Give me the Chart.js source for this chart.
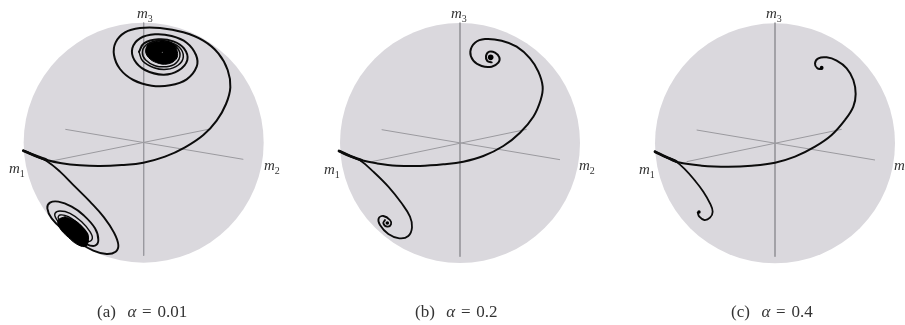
<!DOCTYPE html>
<html lang="en">
<head>
    <meta charset="UTF-8">
    <title>Trajectories on the unit sphere</title>
    <script src="https://cdn.jsdelivr.net/npm/chart.js"></script>
    <style>
        body {
            margin: 0;
            background-color: #fff;
            overflow: hidden;
            font-family: "Liberation Serif", serif;
            color: #333;
        }
        .panel {
            position: absolute;
            top: 0;
            width: 300px;
            height: 325px;
        }
        .panel canvas {
            position: absolute;
            left: 0;
            top: 0;
            filter: blur(0.35px);
        }
        .lab {
            position: absolute;
            font-size: 15px;
            font-style: italic;
            line-height: 14px;
        }
        .lab sub {
            font-size: 10px;
            font-style: normal;
            line-height: 0;
        }
        .cap {
            position: absolute;
            top: 304px;
            font-size: 17px;
            line-height: 16px;
            word-spacing: 1.5px;
            white-space: pre;
        }
    </style>
</head>
<body>
    <div class="panel" style="left:0"><canvas id="chartA" width="300" height="325"></canvas>
        <span class="lab" style="left:137px;top:6px"><i>m</i><sub>3</sub></span>
        <span class="lab" style="left:9px;top:161px"><i>m</i><sub>1</sub></span>
        <span class="lab" style="left:264px;top:158px"><i>m</i><sub>2</sub></span>
        <span class="cap" style="left:97px">(a)  <i>α</i> = 0.01</span>
    </div>
    <div class="panel" style="left:300px"><canvas id="chartB" width="300" height="325"></canvas>
        <span class="lab" style="left:151px;top:6px"><i>m</i><sub>3</sub></span>
        <span class="lab" style="left:24px;top:162px"><i>m</i><sub>1</sub></span>
        <span class="lab" style="left:279px;top:158px"><i>m</i><sub>2</sub></span>
        <span class="cap" style="left:115px">(b)  <i>α</i> = 0.2</span>
    </div>
    <div class="panel" style="left:605px"><canvas id="chartC" width="300" height="325"></canvas>
        <span class="lab" style="left:161px;top:6px"><i>m</i><sub>3</sub></span>
        <span class="lab" style="left:34px;top:162px"><i>m</i><sub>1</sub></span>
        <span class="lab" style="left:289px;top:158px"><i>m</i><sub>2</sub></span>
        <span class="cap" style="left:126px">(c)  <i>α</i> = 0.4</span>
    </div>

    <script>
        // all values, x 0-900 and y 0-975 across one panel
        const aCentre = [{ x: 431, y: 428 }];
        const aAxis3 = [{ x: 431, y: 68 }, { x: 431, y: 767 }];
        const aAxis2 = [{ x: 196, y: 388 }, { x: 730, y: 478 }];
        const aAxis1 = [{ x: 155, y: 483 }, { x: 630, y: 387 }];
        const aStart = [[70, 452], [105, 467], [140, 480]];
        const aUpper = [[70, 452], [105, 467], [140, 480], [185, 490], [240, 496], [300, 498], [365, 495], [430, 488], [495, 470], [555, 442], [610, 405], [650, 362], [678, 312], [691, 262], [683, 210], [655, 160], [610, 122], [550, 97], [480, 84], [420, 84], [375, 97], [347, 127], [342, 165], [360, 207], [400, 240], [455, 257], [510, 256], [560, 238], [590, 200], [588, 165], [560, 128], [515, 108], [465, 103], [420, 115], [397, 145], [403, 180], [435, 210], [490, 224], [535, 212], [562, 180], [552, 145], [520, 124], [475, 118], [432, 130], [417, 155]];
        const aUpperInner = [[417, 155], [428, 183], [462, 203], [500, 208], [535, 195], [550, 170], [538, 142], [505, 125], [468, 122], [437, 136], [427, 158], [437, 180], [465, 197], [500, 200], [527, 190], [540, 165], [528, 140], [500, 128], [470, 130]];
        const aUpperBlob = [[487, 122], [517, 130], [532, 155], [528, 178], [502, 192], [470, 188], [445, 172], [437, 150], [450, 130]];
        const aUpperDot = [{ x: 487, y: 157 }];
        const aLower = [[70, 452], [105, 467], [140, 483], [180, 515], [225, 560], [270, 605], [312, 652], [342, 698], [355, 735], [347, 755], [320, 762], [280, 752], [235, 725], [190, 690], [155, 655], [142, 625], [150, 608], [175, 605], [215, 620], [250, 645], [285, 685], [295, 720], [285, 737], [260, 733], [225, 712]];
        const aLowerInner = [[225, 712], [190, 685], [168, 655], [165, 640], [180, 633], [210, 640], [245, 665], [270, 695], [277, 715], [265, 725], [235, 712], [195, 680], [175, 655], [180, 645], [205, 650], [240, 675], [262, 700], [265, 715]];
        const aLowerBlob = [[195, 650], [225, 662], [250, 685], [265, 712], [258, 738], [235, 735], [205, 712], [178, 682], [175, 660]];
        const bCentre = [{ x: 480, y: 429 }];
        const bAxis3 = [{ x: 480, y: 68 }, { x: 480, y: 770 }];
        const bAxis2 = [{ x: 245, y: 389 }, { x: 780, y: 479 }];
        const bAxis1 = [{ x: 215, y: 485 }, { x: 680, y: 388 }];
        const bStart = [[117, 453], [150, 468], [185, 481]];
        const bUpper = [[117, 453], [150, 468], [185, 481], [230, 490], [290, 497], [360, 498], [430, 493], [490, 485], [550, 468], [610, 438], [660, 398], [700, 350], [722, 300], [728, 260], [715, 215], [690, 175], [650, 140], [605, 122], [555, 117], [525, 128], [511, 155], [520, 182], [545, 198], [575, 200], [595, 188], [598, 172], [585, 158], [568, 155], [558, 168], [562, 183], [575, 187]];
        const bUpperEnd = [{ x: 572, y: 172 }];
        const bLower = [[117, 453], [150, 468], [180, 481], [220, 515], [265, 560], [305, 610], [330, 650], [336, 682], [325, 708], [298, 715], [265, 702], [240, 675], [236, 655], [250, 648], [270, 660], [273, 673], [262, 680], [250, 670], [255, 660]];
        const bLowerEnd = [{ x: 262, y: 669 }];
        const cCentre = [{ x: 510, y: 430 }];
        const cAxis3 = [{ x: 510, y: 68 }, { x: 510, y: 770 }];
        const cAxis2 = [{ x: 275, y: 390 }, { x: 810, y: 480 }];
        const cAxis1 = [{ x: 245, y: 485 }, { x: 710, y: 388 }];
        const cStart = [[150, 455], [185, 472], [215, 485]];
        const cUpper = [[150, 455], [185, 472], [220, 487], [290, 497], [370, 500], [440, 497], [510, 488], [570, 470], [630, 440], [680, 405], [720, 360], [745, 320], [752, 282], [745, 240], [725, 205], [695, 182], [665, 172], [640, 175], [630, 190], [637, 205], [650, 207]];
        const cUpperEnd = [{ x: 650, y: 203 }];
        const cLower = [[150, 455], [185, 472], [208, 481], [240, 508], [270, 542], [295, 575], [315, 610], [323, 635], [315, 653], [298, 660], [283, 650], [278, 638]];
        const cLowerEnd = [{ x: 282, y: 636 }];

        function pts(list) {
            return list.map(function (p) { return { x: p[0], y: p[1] }; });
        }

        function axisLine(data) {
            return { data: data, showLine: true, borderColor: '#9b9a9f', borderWidth: 1, pointRadius: 0 };
        }

        function curve(list, width) {
            return { data: pts(list), showLine: true, borderColor: '#0c0c0c', borderWidth: width, pointRadius: 0, tension: 0.4, borderCapStyle: 'round' };
        }

        function blob(list) {
            return { data: pts(list.concat([list[0]])), showLine: true, borderColor: '#000', borderWidth: 1, backgroundColor: '#000', fill: 'shape', pointRadius: 0, tension: 0.4 };
        }

        function dot(data, size, colour) {
            return { data: data, pointRadius: size, pointBackgroundColor: colour, pointBorderWidth: 0 };
        }

        function drawPanel(id, centre, a1, a2, a3, extra) {
            const datasets = extra.concat([
                axisLine(a1), axisLine(a2), axisLine(a3),
                { data: centre, pointRadius: 120, pointBackgroundColor: '#dad8dd', pointBorderWidth: 0 }
            ]);
            new Chart(document.getElementById(id), {
                type: 'scatter',
                data: { datasets: datasets },
                options: {
                    responsive: false,
                    animation: false,
                    layout: { padding: 0, autoPadding: false },
                    plugins: { legend: { display: false }, tooltip: { enabled: false } },
                    scales: {
                        x: { display: false, min: 0, max: 900 },
                        y: { display: false, min: 0, max: 975, reverse: true }
                    }
                }
            });
        }

        drawPanel('chartA', aCentre, aAxis1, aAxis2, aAxis3, [
            dot(aUpperDot, 0.6, '#777'), blob(aUpperBlob), blob(aLowerBlob),
            curve(aStart, 2.8), curve(aUpper, 2), curve(aUpperInner, 1.5), curve(aLower, 1.9), curve(aLowerInner, 1.4)
        ]);
        drawPanel('chartB', bCentre, bAxis1, bAxis2, bAxis3, [
            dot(bUpperEnd, 2.8, '#000'), dot(bLowerEnd, 1.8, '#000'),
            curve(bStart, 2.8), curve(bUpper, 2), curve(bLower, 1.8)
        ]);
        drawPanel('chartC', cCentre, cAxis1, cAxis2, cAxis3, [
            dot(cUpperEnd, 1.9, '#000'), dot(cLowerEnd, 1.7, '#000'),
            curve(cStart, 2.8), curve(cUpper, 2), curve(cLower, 1.8)
        ]);
    </script>
</body>
</html>
